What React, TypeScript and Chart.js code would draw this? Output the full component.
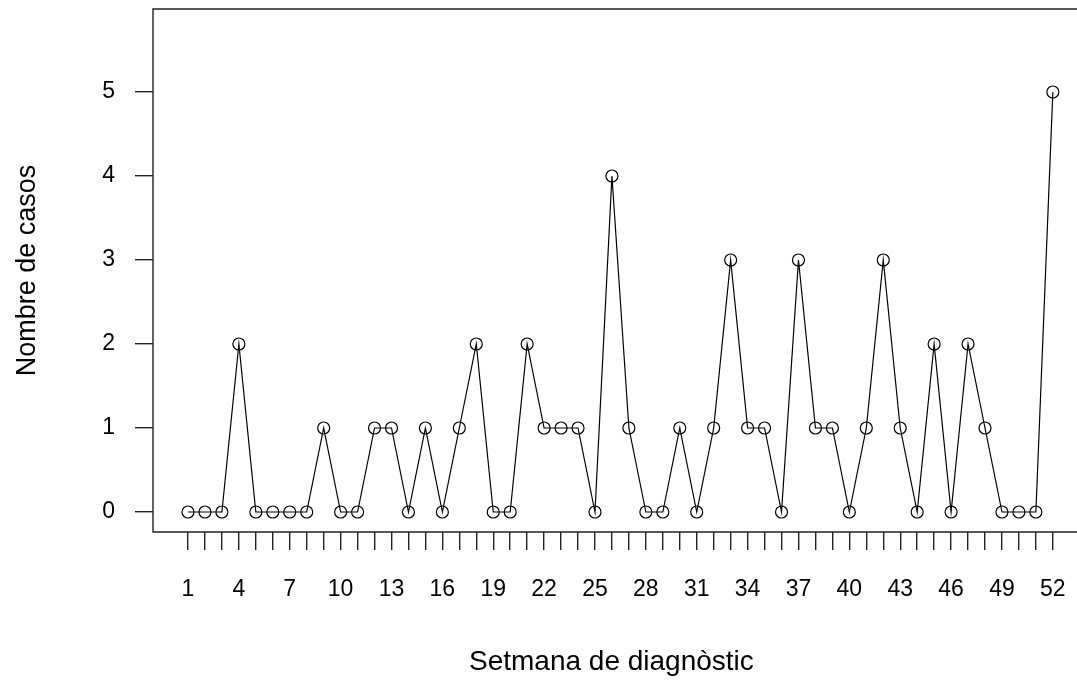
import React, { useEffect, useRef } from "react";
import { Chart, registerables } from "chart.js";

Chart.register(...registerables);

const weeks: number[] = Array.from({ length: 52 }, (_, i) => i + 1);
const cases: number[] = [
  0, 0, 0, 2, 0, 0, 0, 0, 1, 0,
  0, 1, 1, 0, 1, 0, 1, 2, 0, 0,
  2, 1, 1, 1, 0, 4, 1, 0, 0, 1,
  0, 1, 3, 1, 1, 0, 3, 1, 1, 0,
  1, 3, 1, 0, 2, 0, 2, 1, 0, 0,
  0, 5,
];
const yTicks: number[] = [0, 1, 2, 3, 4, 5];
const xLabelWeeks: number[] = weeks.filter((w) => (w - 1) % 3 === 0);
const xTitle = "Setmana de diagnòstic";
const yTitle = "Nombre de casos";

const FONT = "'Liberation Sans', Arial, sans-serif";

const boxPlugin = {
  id: "rbox",
  afterDraw(chart: any) {
    const { ctx, chartArea } = chart;
    ctx.save();
    ctx.strokeStyle = "#222";
    ctx.lineWidth = 1.4;
    ctx.beginPath();
    ctx.moveTo(chart.width + 5, chartArea.top);
    ctx.lineTo(chartArea.left, chartArea.top);
    ctx.lineTo(chartArea.left, chartArea.bottom);
    ctx.lineTo(chart.width + 5, chartArea.bottom);
    ctx.stroke();
    ctx.restore();
  },
};

export default function App() {
  const ref = useRef<HTMLCanvasElement>(null);
  useEffect(() => {
    if (!ref.current) return;
    const chart = new Chart(ref.current, {
      type: "line",
      data: {
        datasets: [
          {
            data: weeks.map((w, i) => ({ x: w, y: cases[i] })),
            borderColor: "#000",
            borderWidth: 1.2,
            pointRadius: 6,
            pointBorderWidth: 1.2,
            pointBorderColor: "#000",
            pointBackgroundColor: "rgba(0,0,0,0)",
            pointStyle: "circle",
            tension: 0,
            fill: false,
          },
        ],
      },
      plugins: [boxPlugin],
      options: {
        responsive: false,
        animation: false,
        layout: { padding: { top: 9, left: 0, right: 0, bottom: 0 } },
        plugins: {
          legend: { display: false },
          tooltip: { enabled: false },
        },
        scales: {
          x: {
            type: "linear",
            min: -1.064,
            max: 53.0,
            afterBuildTicks: (scale: any) => {
              scale.ticks = weeks.map((w) => ({ value: w }));
            },
            afterFit: (scale: any) => {
              scale.height = 151;
              scale.paddingLeft = 0;
              scale.paddingRight = 0;
              scale.paddingTop = 0;
              scale.paddingBottom = 0;
            },
            border: { display: false },
            grid: {
              drawOnChartArea: false,
              drawTicks: true,
              tickLength: 18,
              color: "#222",
              lineWidth: 1.4,
            },
            ticks: {
              autoSkip: false,
              maxRotation: 0,
              minRotation: 0,
              padding: 26,
              color: "#000",
              font: { family: FONT, size: 23 },
              callback: (v: any) => (xLabelWeeks.includes(Number(v)) ? String(v) : ""),
            },
            title: {
              display: true,
              text: xTitle,
              color: "#000",
              font: { family: FONT, size: 28 },
              padding: { top: 0, bottom: 4 },
            },
          },
          y: {
            type: "linear",
            min: -0.238,
            max: 5.988,
            afterBuildTicks: (scale: any) => {
              scale.ticks = yTicks.map((v) => ({ value: v }));
            },
            afterFit: (scale: any) => {
              scale.width = 153;
              scale.paddingLeft = 0;
              scale.paddingRight = 0;
              scale.paddingTop = 0;
              scale.paddingBottom = 0;
            },
            border: { display: false },
            grid: {
              drawOnChartArea: false,
              drawTicks: true,
              tickLength: 18,
              color: "#222",
              lineWidth: 1.4,
            },
            ticks: {
              padding: 20,
              color: "#000",
              font: { family: FONT, size: 23 },
              callback: (v: any) => String(v),
            },
            title: {
              display: true,
              text: yTitle,
              color: "#000",
              font: { family: FONT, size: 27 },
              padding: { top: 11, bottom: 0 },
            },
          },
        },
      },
    });
    return () => chart.destroy();
  }, []);
  return (
    <div style={{ position: "absolute", left: 0, top: 0, width: 1077, height: 683, background: "#fff" }}>
      <canvas ref={ref} width={1077} height={683} style={{ display: "block" }} />
    </div>
  );
}
